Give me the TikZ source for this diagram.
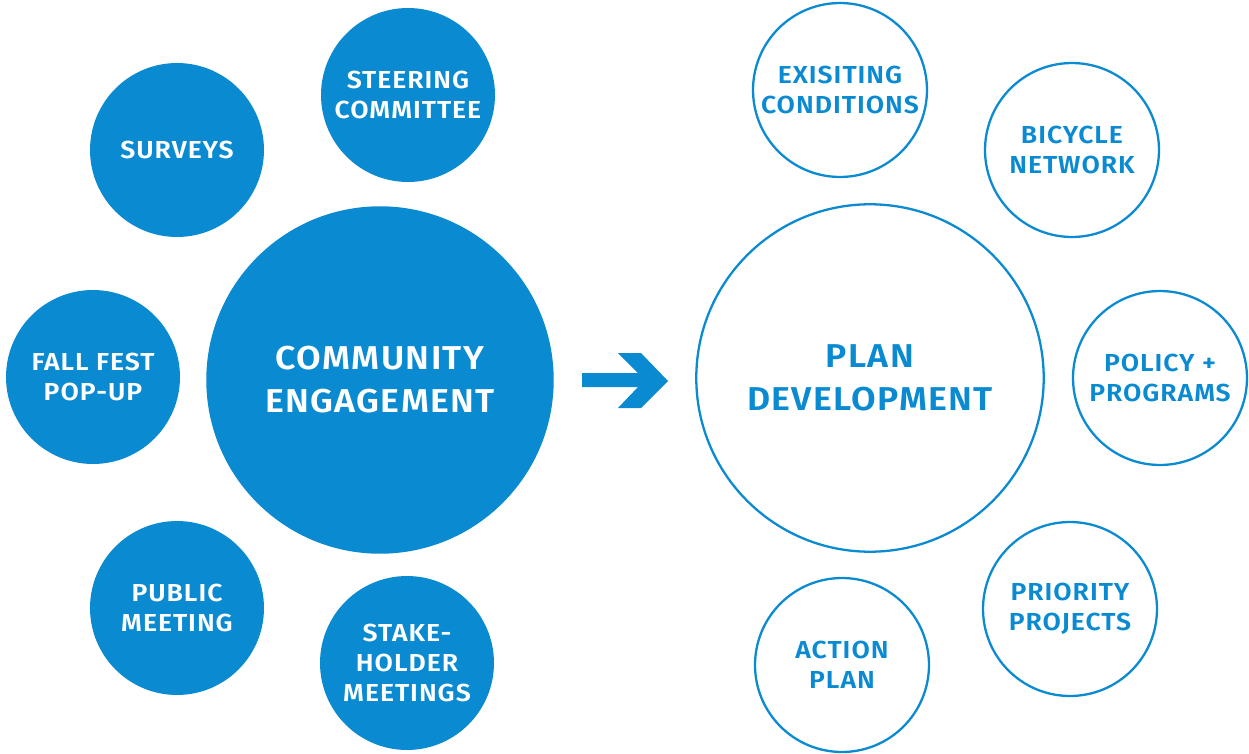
\documentclass[tikz,border=0pt]{standalone}
\usepackage{fontspec}
\setmainfont{Fira Sans}[BoldFont={Fira Sans SemiBold}, FakeStretch=1.08, LetterSpace=4]
\usetikzlibrary{positioning}
\definecolor{planblue}{HTML}{0A8AD0}

\begin{document}
\begin{tikzpicture}
[x=0.02cm, y=-0.02cm,
 every node/.style={circle, align=center, inner sep=0pt},
 engage/.style={fill=planblue, text=white},
 develop/.style={draw=planblue, line width=1.3pt, text=planblue},
 small/.style={minimum size=3.48cm,
 font=\fontsize{14}{17}\selectfont\bfseries},
 big/.style={minimum size=6.95cm,
 font=\fontsize{18.8}{24.4}\selectfont\bfseries}
]
\useasboundingbox (0,0) rectangle (1249,754);

% left side
\node[engage, big] (community) at (380,380) {COMMUNITY\\ENGAGEMENT};
\node[engage, small] (steering) at (408,95) {STEERING\\COMMITTEE};
\node[engage, small] (surveys) at (177,150) {SURVEYS};
\node[engage, small] (fallfest) at (93,377) {FALL FEST\\POP-UP};
\node[engage, small] (public) at (177,608) {PUBLIC\\MEETING};
\node[engage, small] (stakeholder) at (407,663) {STAKE-\\HOLDER\\MEETINGS};

% arrow between the two halves
\fill[planblue] (582,373) -- (638,373) -- (618,353) -- (641,353) -- (668,381)
 -- (641,408) -- (618,408) -- (638,387) -- (582,387) -- cycle;

% right side
\node[develop, big] (plan) at (870,378) {PLAN\\DEVELOPMENT};
\node[develop, small] (existing) at (840,90) {EXISITING\\CONDITIONS};
\node[develop, small] (bicycle) at (1072,150) {BICYCLE\\NETWORK};
\node[develop, small] (policy) at (1160,378) {POLICY +\\PROGRAMS};
\node[develop, small] (priority) at (1070,609) {PRIORITY\\PROJECTS};
\node[develop, small] (action) at (842,665) {ACTION\\PLAN};
\end{tikzpicture}
\end{document}
